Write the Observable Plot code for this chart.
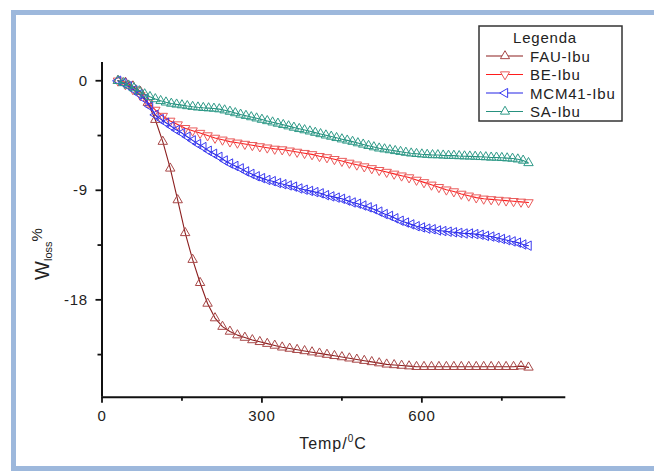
<!DOCTYPE html>
<html>
<head>
<meta charset="utf-8">
<script src="https://cdn.jsdelivr.net/npm/d3@7"></script>
<script src="https://cdn.jsdelivr.net/npm/@observablehq/plot@0.6"></script>
<style>
  html, body { margin: 0; padding: 0; background: #fff; overflow: hidden; }
  #wrap { position: relative; width: 654px; height: 471px; overflow: hidden; }
  #frame { position: absolute; left: 11px; top: 10px; width: 700px; height: 461px; box-sizing: border-box; border: 5px solid #9db8dc; pointer-events: none; }
  #chart { position: absolute; left: 0; top: 0; }
</style>
</head>
<body>
<div id="wrap"><div id="chart"></div><div id="frame"></div></div>
<script>
// Temperatures (°C) at the markers: FAU and BE are sampled every 14 °C, MCM41 and SA every 10 °C
const temp14 = [30,44,58,72,86,100,114,128,142,156,170,184,198,212,226,240,254,268,282,296,310,324,338,352,366,380,394,408,422,436,450,464,478,492,506,520,534,548,562,576,590,604,618,632,646,660,674,688,702,716,730,744,758,772,786,800];
const temp10 = [30,40,50,60,70,80,90,100,110,120,130,140,150,160,170,180,190,200,210,220,230,240,250,260,270,280,290,300,310,320,330,340,350,360,370,380,390,400,410,420,430,440,450,460,470,480,490,500,510,520,530,540,550,560,570,580,590,600,610,620,630,640,650,660,670,680,690,700,710,720,730,740,750,760,770,780,790,800];

const series = ["FAU-Ibu", "BE-Ibu", "MCM41-Ibu", "SA-Ibu"];

const fauIbu = [0,-0.15,-0.45,-0.9,-1.8,-3.2,-5.0,-7.2,-9.8,-12.5,-14.7,-16.6,-18.3,-19.5,-20.2,-20.6,-20.9,-21.1,-21.3,-21.45,-21.6,-21.75,-21.9,-22.0,-22.1,-22.2,-22.3,-22.4,-22.5,-22.6,-22.7,-22.8,-22.9,-23.0,-23.1,-23.2,-23.3,-23.35,-23.4,-23.45,-23.5,-23.5,-23.5,-23.5,-23.5,-23.5,-23.5,-23.5,-23.5,-23.5,-23.5,-23.5,-23.5,-23.5,-23.45,-23.55];

const beIbu = [0,-0.3,-0.7,-1.2,-1.8,-2.4,-2.9,-3.3,-3.6,-3.9,-4.1,-4.3,-4.5,-4.7,-4.85,-5.0,-5.1,-5.2,-5.3,-5.4,-5.5,-5.6,-5.65,-5.75,-5.85,-5.95,-6.05,-6.2,-6.3,-6.45,-6.6,-6.75,-6.9,-7.05,-7.2,-7.35,-7.5,-7.65,-7.8,-7.95,-8.15,-8.35,-8.55,-8.75,-8.95,-9.1,-9.3,-9.45,-9.6,-9.7,-9.75,-9.8,-9.85,-9.9,-9.95,-10.0];

const mcm41Ibu = [0,-0.2,-0.45,-0.75,-1.1,-1.5,-2.1,-2.8,-3.15,-3.45,-3.75,-4.05,-4.3,-4.6,-4.9,-5.2,-5.45,-5.75,-6.0,-6.25,-6.55,-6.8,-7.0,-7.2,-7.45,-7.65,-7.85,-8.0,-8.15,-8.25,-8.4,-8.5,-8.6,-8.7,-8.85,-8.95,-9.05,-9.15,-9.25,-9.4,-9.5,-9.6,-9.7,-9.85,-10.0,-10.1,-10.25,-10.4,-10.55,-10.75,-10.95,-11.1,-11.3,-11.5,-11.65,-11.8,-11.95,-12.05,-12.15,-12.2,-12.3,-12.35,-12.4,-12.45,-12.5,-12.55,-12.55,-12.6,-12.65,-12.75,-12.8,-12.9,-13.0,-13.1,-13.2,-13.3,-13.45,-13.55];

const saIbu = [0,-0.18,-0.38,-0.6,-0.85,-1.1,-1.32,-1.5,-1.65,-1.77,-1.87,-1.94,-2.0,-2.07,-2.13,-2.18,-2.22,-2.25,-2.28,-2.33,-2.42,-2.53,-2.65,-2.77,-2.87,-2.98,-3.08,-3.19,-3.3,-3.41,-3.51,-3.62,-3.73,-3.84,-3.95,-4.05,-4.15,-4.26,-4.37,-4.48,-4.58,-4.69,-4.8,-4.9,-5.0,-5.12,-5.23,-5.34,-5.45,-5.55,-5.62,-5.69,-5.76,-5.83,-5.9,-5.96,-6.0,-6.04,-6.07,-6.1,-6.1,-6.13,-6.15,-6.15,-6.18,-6.2,-6.21,-6.23,-6.25,-6.27,-6.3,-6.3,-6.33,-6.36,-6.39,-6.45,-6.55,-6.75];

const xTicks = [0, 300, 600];
const xMinor = [150, 450, 750];
const yTicks = [0, -9, -18];
const yMinor = [-4.5, -13.5, -22.5];

// Custom open triangle symbols (up, down, left)
const S3 = Math.sqrt(3);
const triUp = {draw(c, s) { const y = -Math.sqrt(s / (S3 * 3)); c.moveTo(0, y * 2); c.lineTo(-S3 * y, -y); c.lineTo(S3 * y, -y); c.closePath(); }};
const triDown = {draw(c, s) { const y = -Math.sqrt(s / (S3 * 3)); c.moveTo(0, -y * 2); c.lineTo(-S3 * y, y); c.lineTo(S3 * y, y); c.closePath(); }};
const triLeft = {draw(c, s) { const y = -Math.sqrt(s / (S3 * 3)); c.moveTo(y * 2, 0); c.lineTo(-y, -S3 * y); c.lineTo(-y, S3 * y); c.closePath(); }};

const styles = [
  {t: temp14, values: fauIbu, line: "#8c1f1f", mark: "#a84848", symbol: triUp},
  {t: temp14, values: beIbu, line: "#ff1c1c", mark: "#ea5a5a", symbol: triDown},
  {t: temp10, values: mcm41Ibu, line: "#2424e6", mark: "#3a3af0", symbol: triLeft},
  {t: temp10, values: saIbu, line: "#27917f", mark: "#2f9a88", symbol: triUp}
];

const seriesMarks = [];
styles.forEach((st, i) => {
  const data = st.t.map((t, j) => ({t, v: st.values[j], s: series[i]}));
  seriesMarks.push(Plot.line(data, {x: "t", y: "v", stroke: st.line, strokeWidth: 1.1}));
  seriesMarks.push(Plot.dot(data, {x: "t", y: "v", symbol: st.symbol, r: 3.5, stroke: st.mark, fill: "none", strokeWidth: 1}));
});

const fmt = d => String(d);

const chart = Plot.plot({
  width: 654,
  height: 471,
  marginLeft: 101.5,
  marginRight: 88.7,
  marginTop: 62,
  marginBottom: 74.3,
  x: {domain: [0, 870]},
  y: {domain: [-26, 1.5]},
  style: {fontFamily: "'Liberation Sans', Arial, sans-serif", fontSize: "15px", background: "transparent", color: "#111"},
  marks: [
    ...seriesMarks,
    Plot.axisX(xTicks, {tickSize: 6, tickPadding: 7, strokeWidth: 1.8, label: null, fontSize: 15, fill: "#222", tickFormat: fmt}),
    Plot.axisX(xMinor, {tickSize: 4, strokeWidth: 1.8, label: null, fill: "none", tickFormat: () => ""}),
    Plot.axisY(yTicks, {tickSize: 6, tickPadding: 8, strokeWidth: 1.8, label: null, fontSize: 15, fill: "#222", tickFormat: fmt}),
    Plot.axisY(yMinor, {tickSize: 4, strokeWidth: 1.8, label: null, fill: "none", tickFormat: () => ""}),
    Plot.ruleX([0], {stroke: "#111", strokeWidth: 2}),
    Plot.ruleY([-26], {stroke: "#111", strokeWidth: 2})
  ]
});
document.getElementById("chart").appendChild(chart);

// Axis titles and legend
const svg = d3.select(chart);
svg.selectAll("text").attr("letter-spacing", "0.8px");

const yt = svg.append("text")
  .attr("transform", "translate(49,254) rotate(-90)")
  .attr("text-anchor", "middle")
  .attr("font-family", "'Liberation Sans', Arial, sans-serif")
  .attr("fill", "#222");
yt.append("tspan").attr("font-size", 20).text("W");
yt.append("tspan").attr("font-size", 11).attr("dy", 3).text("loss");
yt.append("tspan").attr("font-size", 15).attr("dy", -10).text("%");

const xt = svg.append("text")
  .attr("x", 333).attr("y", 449)
  .attr("text-anchor", "middle")
  .attr("font-family", "'Liberation Sans', Arial, sans-serif")
  .attr("letter-spacing", "1px")
  .attr("fill", "#222")
  .attr("font-size", 16);
xt.append("tspan").text("Temp/");
xt.append("tspan").attr("font-size", 10).attr("dy", -7).text("0");
xt.append("tspan").attr("dy", 7).text("C");

const lg = svg.append("g").attr("font-family", "'Liberation Sans', Arial, sans-serif").attr("fill", "#222");
lg.append("rect").attr("x", 479).attr("y", 26).attr("width", 143).attr("height", 95)
  .attr("fill", "white").attr("stroke", "#333").attr("stroke-width", 1.5);
lg.append("text").attr("x", 545).attr("y", 43).attr("text-anchor", "middle").attr("font-size", 15).attr("letter-spacing", "0.8px").text("Legenda");
const rowY = [56, 74.5, 93, 111.5];
styles.forEach((st, i) => {
  const y = rowY[i];
  lg.append("line").attr("x1", 486).attr("x2", 523).attr("y1", y).attr("y2", y).attr("stroke", st.line).attr("stroke-width", 1.1);
  lg.append("path").attr("transform", `translate(505,${y})`)
    .attr("d", d3.symbol(st.symbol, Math.PI * 3.4 * 3.4)())
    .attr("fill", "white").attr("stroke", st.mark).attr("stroke-width", 1);
  lg.append("text").attr("x", 530).attr("y", y + 5.5).attr("text-anchor", "start").attr("font-size", 15).attr("letter-spacing", "0.8px").text(series[i]);
});
</script>
</body>
</html>
